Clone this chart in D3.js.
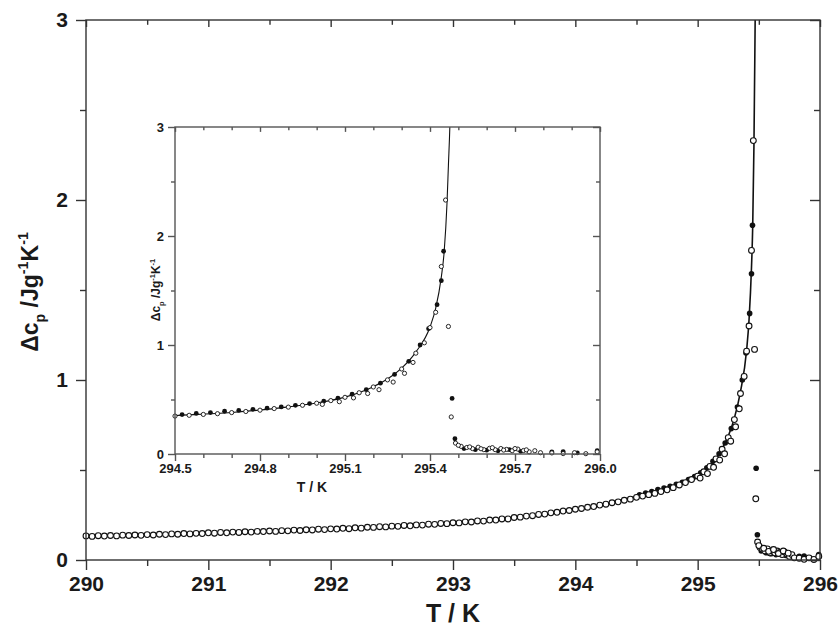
<!DOCTYPE html>
<html>
<head>
<meta charset="utf-8">
<script src="https://cdn.jsdelivr.net/npm/d3@7"></script>
<style>
  body { margin: 0; background: #fff; }
  svg text { font-family: "Liberation Sans", Arial, sans-serif; font-weight: bold; fill: #1a1a1a; }
</style>
</head>
<body>
<div id="chart"></div>
<script>
// open circles (run 1), T / K
var openT = [
  290.00, 290.05, 290.10, 290.15, 290.20, 290.25, 290.30, 290.35, 290.40, 290.45,
  290.50, 290.55, 290.60, 290.65, 290.70, 290.75, 290.80, 290.85, 290.90, 290.95,
  291.00, 291.05, 291.10, 291.15, 291.20, 291.25, 291.30, 291.35, 291.40, 291.45,
  291.50, 291.55, 291.60, 291.65, 291.70, 291.75, 291.80, 291.85, 291.90, 291.95,
  292.00, 292.05, 292.10, 292.15, 292.20, 292.25, 292.30, 292.35, 292.40, 292.45,
  292.50, 292.55, 292.60, 292.65, 292.70, 292.75, 292.80, 292.85, 292.90, 292.95,
  293.00, 293.05, 293.10, 293.15, 293.20, 293.25, 293.30, 293.35, 293.40, 293.45,
  293.50, 293.55, 293.60, 293.65, 293.70, 293.75, 293.80, 293.85, 293.90, 293.95,
  294.00, 294.05, 294.10, 294.15, 294.20, 294.25, 294.30, 294.35, 294.40, 294.45,
  294.50, 294.55, 294.60, 294.65, 294.70, 294.75, 294.80, 294.85, 294.90, 294.95,
  295.00, 295.05, 295.10, 295.15, 295.20, 295.25, 295.30, 295.35, 295.40, 295.42,
  295.44, 295.455, 295.465, 295.475,
  295.49, 295.51, 295.53, 295.55, 295.57, 295.59, 295.61, 295.63, 295.65, 295.67,
  295.69, 295.71, 295.73, 295.75, 295.77, 295.79, 295.83, 295.87, 295.91, 295.95, 295.99
];
var openCp = [
  0.134, 0.131, 0.135, 0.133, 0.136, 0.134, 0.138, 0.136, 0.139, 0.137,
  0.141, 0.139, 0.143, 0.141, 0.145, 0.143, 0.147, 0.145, 0.148, 0.147,
  0.151, 0.149, 0.153, 0.151, 0.155, 0.153, 0.157, 0.155, 0.159, 0.158,
  0.161, 0.159, 0.163, 0.162, 0.166, 0.164, 0.168, 0.167, 0.171, 0.169,
  0.173, 0.172, 0.176, 0.174, 0.179, 0.177, 0.182, 0.181, 0.185, 0.184,
  0.188, 0.187, 0.192, 0.190, 0.195, 0.194, 0.199, 0.198, 0.203, 0.202,
  0.207, 0.206, 0.212, 0.211, 0.217, 0.216, 0.222, 0.222, 0.228, 0.228,
  0.236, 0.238, 0.244, 0.246, 0.253, 0.255, 0.262, 0.265, 0.272, 0.275,
  0.282, 0.286, 0.293, 0.297, 0.305, 0.310, 0.318, 0.323, 0.332, 0.338,
  0.348, 0.355, 0.363, 0.370, 0.380, 0.390, 0.402, 0.417, 0.430, 0.447,
  0.466, 0.490, 0.520, 0.562, 0.615, 0.680, 0.780, 0.925, 1.160, 1.300,
  1.720, 2.330, 1.170, 0.340,
  0.100, 0.070, 0.060, 0.050, 0.062, 0.040, 0.052, 0.040, 0.050, 0.042,
  0.030, 0.045, 0.032, 0.020, 0.030, 0.012, 0.010, 0.004, 0.012, 0.003, 0.020
];
// extra scattered open points near the transition (second pass)
var scatterT = [295.02, 295.08, 295.13, 295.18, 295.22, 295.27, 295.31, 295.34, 295.38,
  295.50, 295.54, 295.58, 295.62, 295.66, 295.70, 295.74];
var scatterCp = [0.455, 0.480, 0.515, 0.555, 0.590, 0.660, 0.740, 0.840, 1.020,
  0.080, 0.065, 0.048, 0.058, 0.036, 0.050, 0.038];
// filled circles (run 2)
var filledT = [
  294.525, 294.575, 294.625, 294.675, 294.725, 294.775, 294.825, 294.875, 294.925, 294.975,
  295.025, 295.075, 295.125, 295.175, 295.225, 295.275, 295.325, 295.365, 295.395, 295.425,
  295.440, 295.448, 295.478, 295.488,
  295.52, 295.56, 295.60, 295.64, 295.68, 295.72, 295.83, 295.87, 295.92, 295.99
];
var filledCp = [
  0.362, 0.372, 0.380, 0.392, 0.400, 0.410, 0.420, 0.432, 0.447, 0.463,
  0.485, 0.512, 0.548, 0.590, 0.650, 0.730, 0.850, 1.000, 1.150, 1.370,
  1.590, 1.860, 0.510, 0.140,
  0.050, 0.040, 0.035, 0.030, 0.040, 0.025, 0.020, 0.022, 0.010, 0.030
];
// fitted curve
var fitT = [290.0, 291.0, 292.0, 293.0, 293.5, 294.0, 294.5, 294.7, 294.9, 295.0,
  295.1, 295.2, 295.25, 295.3, 295.35, 295.4, 295.42, 295.44, 295.45, 295.46, 295.465, 295.47, 295.472];
var fitCp = [0.134, 0.151, 0.173, 0.207, 0.235, 0.280, 0.352, 0.381, 0.432, 0.468,
  0.522, 0.618, 0.688, 0.788, 0.935, 1.165, 1.335, 1.625, 1.855, 2.300, 2.650, 3.000, 3.2];

var mainXTicks = [290, 291, 292, 293, 294, 295, 296];
var mainXMinor = [290.5, 291.5, 292.5, 293.5, 294.5, 295.5];
var mainYTicks = [0, 1, 2, 3];
var mainYMinor = [0.5, 1.5, 2.5];
var insetXTicks = [294.5, 294.8, 295.1, 295.4, 295.7, 296.0];
var insetXMinor = [294.6, 294.7, 294.9, 295.0, 295.2, 295.3, 295.5, 295.6, 295.8, 295.9];
var insetYTicks = [0, 1, 2, 3];
var insetYMinor = [0.5, 1.5, 2.5];

var openData = openT.map(function (t, i) { return { t: t, v: openCp[i] }; })
  .concat(scatterT.map(function (t, i) { return { t: t, v: scatterCp[i] }; }));
var filledData = filledT.map(function (t, i) { return { t: t, v: filledCp[i] }; });
var fitData = fitT.map(function (t, i) { return { t: t, v: fitCp[i] }; });

var svg = d3.select('#chart').append('svg').attr('width', 840).attr('height', 630);

function drawAxes(g, x, y, c) {
  var x0 = x.range()[0], x1 = x.range()[1], y0 = y.range()[0], y1 = y.range()[1];
  var lineCol = c.stroke;
  // bottom, labelled
  g.append('g').attr('transform', 'translate(0,' + y0 + ')')
    .call(d3.axisBottom(x).tickValues(c.xMajor).tickSize(c.major).tickSizeOuter(0)
      .tickPadding(c.xPad).tickFormat(c.xFmt));
  g.append('g').attr('transform', 'translate(0,' + y0 + ')')
    .call(d3.axisBottom(x).tickValues(c.xMinor).tickSize(c.minor).tickSizeOuter(0).tickFormat(''));
  // top, ticks inward
  g.append('g').attr('transform', 'translate(0,' + y1 + ')')
    .call(d3.axisTop(x).tickValues(c.xMajor).tickSize(-c.major * 0.7).tickSizeOuter(0).tickFormat(''));
  g.append('g').attr('transform', 'translate(0,' + y1 + ')')
    .call(d3.axisTop(x).tickValues(c.xMinor).tickSize(-c.minor * 0.8).tickSizeOuter(0).tickFormat(''));
  // left, labelled
  g.append('g').attr('transform', 'translate(' + x0 + ',0)')
    .call(d3.axisLeft(y).tickValues(c.yMajor).tickSize(c.major).tickSizeOuter(0)
      .tickPadding(c.yPad).tickFormat(d3.format('d')));
  g.append('g').attr('transform', 'translate(' + x0 + ',0)')
    .call(d3.axisLeft(y).tickValues(c.yMinor).tickSize(c.minor).tickSizeOuter(0).tickFormat(''));
  // right, ticks inward
  g.append('g').attr('transform', 'translate(' + x1 + ',0)')
    .call(d3.axisRight(y).tickValues(c.yMajor).tickSize(-c.major).tickSizeOuter(0).tickFormat(''));
  g.append('g').attr('transform', 'translate(' + x1 + ',0)')
    .call(d3.axisRight(y).tickValues(c.yMinor).tickSize(-c.minor).tickSizeOuter(0).tickFormat(''));

  g.selectAll('.domain').remove();
  g.selectAll('.tick line').attr('stroke', lineCol).attr('stroke-width', c.width);
  g.selectAll('.tick text').attr('font-family', null).style('font-size', c.font + 'px')
    .attr('fill', '#1a1a1a');

  g.append('rect')
    .attr('x', x0).attr('y', y1).attr('width', x1 - x0).attr('height', y0 - y1)
    .attr('fill', 'none').attr('stroke', lineCol).attr('stroke-width', c.width);
}

function cpLabel(g, tx, ty, size) {
  var t = g.append('text')
    .attr('transform', 'translate(' + tx + ',' + ty + ') rotate(-90)')
    .attr('text-anchor', 'middle')
    .style('font-size', size + 'px');
  var s = size * 0.62;
  t.append('tspan').text('\u0394c');
  t.append('tspan').text('p').style('font-size', s + 'px').attr('dy', size * 0.3);
  t.append('tspan').text(' /Jg').attr('dy', -size * 0.3);
  t.append('tspan').text('-1').style('font-size', s + 'px').attr('dy', -size * 0.45);
  t.append('tspan').text('K').attr('dy', size * 0.45);
  t.append('tspan').text('-1').style('font-size', s + 'px').attr('dy', -size * 0.45);
}

function drawData(g, x, y, clipId, rOpen, rFill, sw, lw) {
  var line = d3.line().x(function (d) { return x(d.t); }).y(function (d) { return y(d.v); })
    .curve(d3.curveMonotoneX);
  g.append('path').datum(fitData)
    .attr('clip-path', 'url(#' + clipId + ')')
    .attr('d', line).attr('fill', 'none').attr('stroke', '#111').attr('stroke-width', lw);

  g.append('g').selectAll('circle').data(filledData).enter().append('circle')
    .attr('cx', function (d) { return x(d.t); })
    .attr('cy', function (d) { return y(d.v); })
    .attr('r', rFill).attr('fill', '#111');

  g.append('g').selectAll('circle').data(openData.filter(function (d) { return d.t >= x.domain()[0]; }))
    .enter().append('circle')
    .attr('cx', function (d) { return x(d.t); })
    .attr('cy', function (d) { return y(d.v); })
    .attr('r', rOpen).attr('fill', '#fff').attr('stroke', '#111').attr('stroke-width', sw);
}

// ---------- main plot ----------
var x = d3.scaleLinear().domain([290, 296]).range([86, 820]);
var y = d3.scaleLinear().domain([0, 3]).range([560, 20]);

svg.append('clipPath').attr('id', 'clipMain').append('rect')
  .attr('x', 86).attr('y', 20).attr('width', 734).attr('height', 540);

var main = svg.append('g');
drawData(main, x, y, 'clipMain', 2.9, 2.8, 1.1, 1.6);
drawAxes(main, x, y, {
  xMajor: mainXTicks, xMinor: mainXMinor, yMajor: mainYTicks, yMinor: mainYMinor,
  major: 10, minor: 6, xPad: 6, yPad: 8, xFmt: d3.format('d'),
  stroke: '#333', width: 1.4, font: 21
});
main.append('text').attr('x', 453).attr('y', 622).attr('text-anchor', 'middle')
  .style('font-size', '25px').text('T / K');
cpLabel(main, 38, 292, 23);

// ---------- inset ----------
var ix = d3.scaleLinear().domain([294.5, 296]).range([175, 600]);
var iy = d3.scaleLinear().domain([0, 3]).range([454, 127]);

var inset = svg.append('g');
inset.append('rect').attr('x', 175).attr('y', 127).attr('width', 425).attr('height', 327).attr('fill', '#fff');
svg.append('clipPath').attr('id', 'clipInset').append('rect')
  .attr('x', 175).attr('y', 127).attr('width', 425).attr('height', 327);
drawData(inset, ix, iy, 'clipInset', 2.1, 2.4, 0.9, 1.1);
drawAxes(inset, ix, iy, {
  xMajor: insetXTicks, xMinor: insetXMinor, yMajor: insetYTicks, yMinor: insetYMinor,
  major: 7, minor: 4, xPad: 3, yPad: 4, xFmt: d3.format('.1f'),
  stroke: '#555', width: 1.4, font: 13
});
inset.append('text').attr('x', 312).attr('y', 492).attr('text-anchor', 'middle')
  .style('font-size', '14px').text('T / K');
cpLabel(inset, 160, 290, 12);
</script>
</body>
</html>
